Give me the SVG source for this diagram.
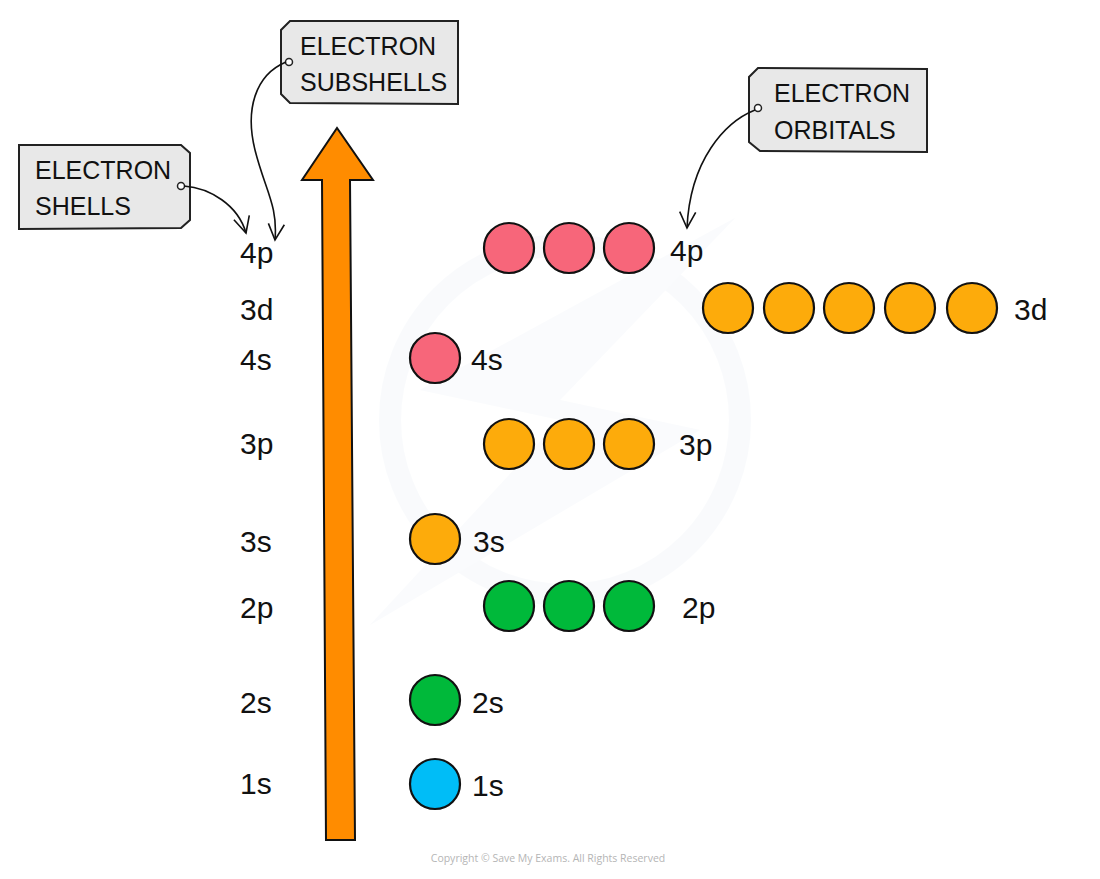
<svg xmlns="http://www.w3.org/2000/svg" width="1100" height="879" viewBox="0 0 1100 879">
<defs>
<style>
.lbl{font-family:"Liberation Sans",Arial,sans-serif;font-size:30px;fill:#111}
.tag{font-family:"Liberation Sans",Arial,sans-serif;font-size:25px;fill:#111}
.tagbox{fill:#e8e8e8;stroke:#222;stroke-width:2}
.hole{fill:#fff;stroke:#222;stroke-width:1.5}
.orb{stroke:#111;stroke-width:2.2}
.pink{fill:#f7667a}
.orange{fill:#fdab0b}
.green{fill:#00b93a}
.blue{fill:#00bdf7}
.conn{fill:none;stroke:#111;stroke-width:1.6}
</style>
<marker id="ah" viewBox="0 0 20 20" refX="18" refY="10" markerWidth="20" markerHeight="20" markerUnits="userSpaceOnUse" orient="auto">
<path d="M2,2 L18,10 L2,18" fill="none" stroke="#111" stroke-width="1.6"/>
</marker>
</defs>
<rect width="1100" height="879" fill="#fff"/>
<g id="watermark" opacity="0.35">
<circle cx="565" cy="420" r="175" fill="none" stroke="#eef3f9" stroke-width="22"/>
<path d="M735,218 L420,390 L560,420 L370,625 L700,430 L560,400 Z" fill="#f1f5fa"/>
</g>
<g id="energy-arrow">
<path d="M322,180 L302,180 L337,128 L373,180 L350,180 L355,840 L326,840 Z" fill="#ff8c00" stroke="#111" stroke-width="2"/>
</g>
<g id="shell-labels">
<text class="lbl" x="240" y="263">4p</text>
<text class="lbl" x="240" y="320">3d</text>
<text class="lbl" x="240" y="370">4s</text>
<text class="lbl" x="240" y="454">3p</text>
<text class="lbl" x="240" y="552">3s</text>
<text class="lbl" x="240" y="618">2p</text>
<text class="lbl" x="240" y="713">2s</text>
<text class="lbl" x="240" y="794">1s</text>
</g>
<g id="orbitals-4p">
<circle class="orb pink" cx="509" cy="248" r="25"/>
<circle class="orb pink" cx="569" cy="248" r="25"/>
<circle class="orb pink" cx="629" cy="248" r="25"/>
<text class="lbl" x="670" y="261">4p</text>
</g>
<g id="orbitals-3d">
<circle class="orb orange" cx="728" cy="308" r="25"/>
<circle class="orb orange" cx="789" cy="308" r="25"/>
<circle class="orb orange" cx="849" cy="308" r="25"/>
<circle class="orb orange" cx="910" cy="308" r="25"/>
<circle class="orb orange" cx="972" cy="308" r="25"/>
<text class="lbl" x="1014" y="320">3d</text>
</g>
<g id="orbitals-4s">
<circle class="orb pink" cx="435" cy="358" r="25"/>
<text class="lbl" x="471" y="370">4s</text>
</g>
<g id="orbitals-3p">
<circle class="orb orange" cx="509" cy="444" r="25"/>
<circle class="orb orange" cx="569" cy="444" r="25"/>
<circle class="orb orange" cx="629" cy="444" r="25"/>
<text class="lbl" x="679" y="455">3p</text>
</g>
<g id="orbitals-3s">
<circle class="orb orange" cx="435" cy="539" r="25"/>
<text class="lbl" x="473" y="552">3s</text>
</g>
<g id="orbitals-2p">
<circle class="orb green" cx="509" cy="606" r="25"/>
<circle class="orb green" cx="569" cy="606" r="25"/>
<circle class="orb green" cx="629" cy="606" r="25"/>
<text class="lbl" x="682" y="618">2p</text>
</g>
<g id="orbitals-2s">
<circle class="orb green" cx="435" cy="700" r="25"/>
<text class="lbl" x="472" y="713">2s</text>
</g>
<g id="orbitals-1s">
<circle class="orb blue" cx="435" cy="784" r="25"/>
<text class="lbl" x="472" y="796">1s</text>
</g>
<g id="tag-subshells">
<path class="tagbox" d="M290,21 L458,21 L458,104 L290,103 L281,94 L281,30 Z"/>
<circle class="hole" cx="289" cy="62" r="3.5"/>
<text class="tag" x="300" y="55">ELECTRON</text>
<text class="tag" x="300" y="91">SUBSHELLS</text>
</g>
<g id="tag-shells">
<path class="tagbox" d="M19,145 L181,145 L190,153 L190,220 L181,228 L19,229 Z"/>
<circle class="hole" cx="181" cy="186" r="3.5"/>
<text class="tag" x="35" y="179">ELECTRON</text>
<text class="tag" x="35" y="215">SHELLS</text>
</g>
<g id="tag-orbitals">
<path class="tagbox" d="M758,68 L927,69 L927,152 L760,151 L749,142 L749,77 Z"/>
<circle class="hole" cx="758" cy="108" r="3.5"/>
<text class="tag" x="774" y="102">ELECTRON</text>
<text class="tag" x="774" y="139">ORBITALS</text>
</g>
<g id="connectors">
<path class="conn" marker-end="url(#ah)" d="M184,186 C210,188 238,205 246,233"/>
<path class="conn" marker-end="url(#ah)" d="M286,62 C255,75 245,110 255,150 C265,190 278,205 275,240"/>
<path class="conn" marker-end="url(#ah)" d="M755,110 C725,122 690,160 687,228"/>
</g>
<text x="548" y="862" text-anchor="middle" font-family="'Open Sans','Liberation Sans',sans-serif" font-size="10.5" fill="#b5b5b5">Copyright © Save My Exams. All Rights Reserved</text>
</svg>
